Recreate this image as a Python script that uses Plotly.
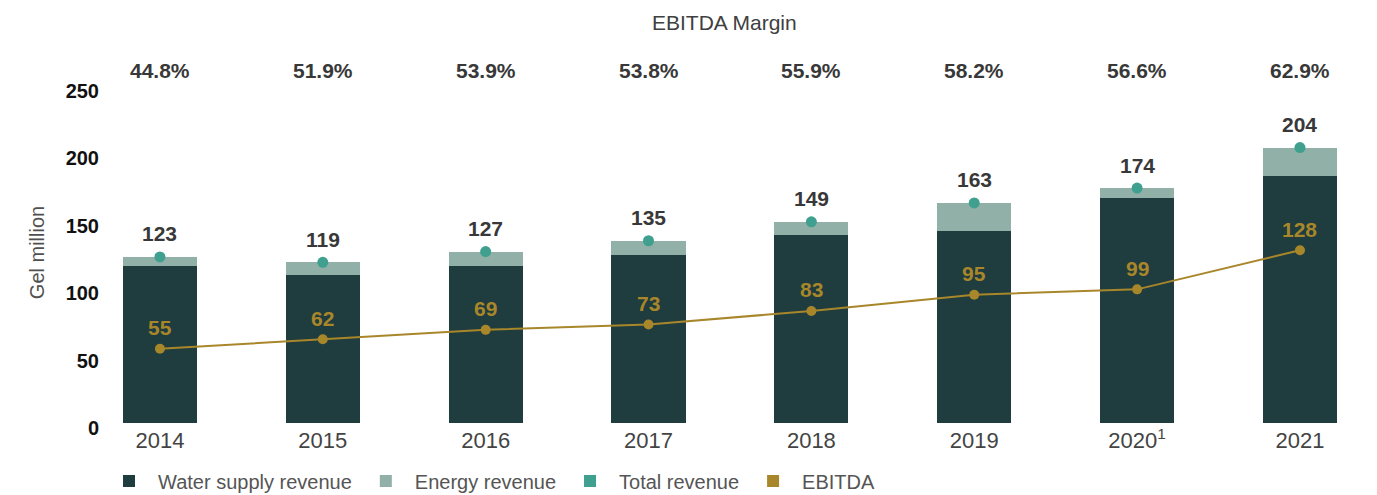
import plotly.graph_objects as go

years = ["2014", "2015", "2016", "2017", "2018", "2019", "2020", "2021"]
year_labels = ["2014", "2015", "2016", "2017", "2018", "2019", "2020<sup>1</sup>", "2021"]
water = [116.5, 109.5, 116, 124.5, 139, 142.5, 166.5, 183]
energy = [6.5, 9.5, 11, 10.5, 10, 20.5, 7.5, 21]
total = [123, 119, 127, 135, 149, 163, 174, 204]
ebitda = [55, 62, 69, 73, 83, 95, 99, 128]
margin = ["44.8%", "51.9%", "53.9%", "53.8%", "55.9%", "58.2%", "56.6%", "62.9%"]
y_ticks = [0, 50, 100, 150, 200, 250]

C_WATER = "#1f3c3f"
C_ENERGY = "#91b0a8"
C_TOTAL = "#3fa08f"
C_EBITDA = "#a8862a"
FONT = "Liberation Sans, Arial, Helvetica, sans-serif"

fig = go.Figure()
fig.add_trace(go.Bar(x=years, y=water, name="Water supply revenue",
                     marker=dict(color=C_WATER, line=dict(width=0))))
fig.add_trace(go.Bar(x=years, y=energy, name="Energy revenue",
                     marker=dict(color=C_ENERGY, line=dict(width=0))))
# legend-only square swatches for the two point series
fig.add_trace(go.Bar(x=years, y=[None] * len(years), name="Total revenue",
                     marker=dict(color=C_TOTAL, line=dict(width=0))))
fig.add_trace(go.Bar(x=years, y=[None] * len(years), name="EBITDA",
                     marker=dict(color=C_EBITDA, line=dict(width=0))))
fig.add_trace(go.Scatter(x=years, y=total, mode="markers", showlegend=False,
                         marker=dict(color=C_TOTAL, size=11), cliponaxis=False))
fig.add_trace(go.Scatter(x=years, y=ebitda, mode="lines+markers", showlegend=False,
                         line=dict(color=C_EBITDA, width=2),
                         marker=dict(color=C_EBITDA, size=10), cliponaxis=False))

ann = []
for i, t in enumerate(total):
    ann.append(dict(x=i, y=t, xref="x", yref="y", text=str(t), showarrow=False,
                    xanchor="center", yanchor="middle", yshift=23,
                    font=dict(family=FONT, size=21, color="#383838", weight="bold")))
for i, e in enumerate(ebitda):
    ann.append(dict(x=i, y=e, xref="x", yref="y", text=str(e), showarrow=False,
                    xanchor="center", yanchor="middle", yshift=21,
                    font=dict(family=FONT, size=21, color=C_EBITDA, weight="bold")))
for i, m in enumerate(margin):
    ann.append(dict(x=i, y=1.003, xref="x", yref="paper", text=m, showarrow=False,
                    xanchor="center", yanchor="middle",
                    font=dict(family=FONT, size=21, color="#383838", weight="bold")))
ann.append(dict(x=0.489, y=1.142, xref="paper", yref="paper", text="EBITDA Margin",
                showarrow=False, xanchor="center", yanchor="middle",
                font=dict(family=FONT, size=21, color="#404040")))
ann.append(dict(x=-0.0493, y=0.484, xref="paper", yref="paper", text="Gel million",
                textangle=-90, showarrow=False, xanchor="center", yanchor="middle",
                font=dict(family=FONT, size=20, color="#505050")))

fig.update_layout(
    width=1369, height=487,
    margin=dict(l=92, r=0, t=64, b=72, autoexpand=False),
    barmode="stack", bargap=0.545,
    plot_bgcolor="white", paper_bgcolor="white",
    font=dict(family=FONT),
    annotations=ann,
    legend=dict(orientation="h", x=0.0, y=-0.165, xanchor="left", yanchor="middle",
                font=dict(family=FONT, size=20, color="#555555"),
                itemwidth=48, traceorder="normal"),
    xaxis=dict(type="category", range=[-0.368, 7.473], tickvals=years, ticktext=year_labels,
               showgrid=False, zeroline=False, showline=False, ticks="",
               ticklabelstandoff=2,
               tickfont=dict(family=FONT, size=22, color="#444444")),
    yaxis=dict(range=[0, 260], tickvals=y_ticks, showgrid=False, zeroline=False,
               showline=False, ticks="", ticklabelshift=5,
               tickfont=dict(family=FONT, size=20, color="#111111", weight="bold")),
)

fig.write_html("out.html")
